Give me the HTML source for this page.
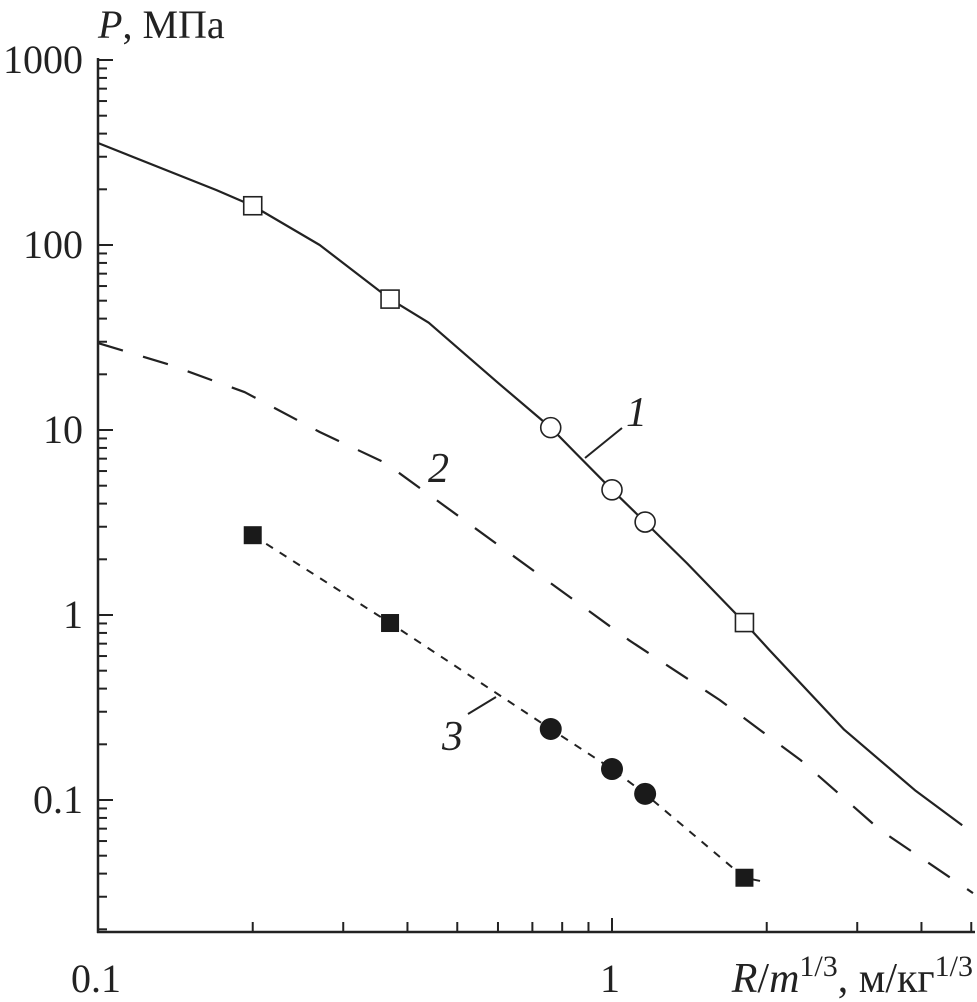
<!DOCTYPE html>
<html><head><meta charset="utf-8"><style>
html,body{margin:0;padding:0;background:#fff;}
svg{display:block;font-family:"Liberation Serif",serif;}
</style></head><body>
<svg id="chart" width="977" height="1002" viewBox="0 0 977 1002"></svg>
<script>
const xTicksMajor=[0.1,1];
const xTickLabels=["0.1","1"];
const yTicksMajor=[1000,100,10,1,0.1];
const yTickLabels=["1000","100","10","1","0.1"];
const curve1X=[0.1,0.17,0.2,0.27,0.37,0.44,0.6,0.76,0.85,1,1.16,1.4,1.81,2.02,2.83,3.9,4.8];
const curve1Y=[356,198,163,100,51,38,18,10.3,7.5,4.75,3.18,1.9,0.91,0.65,0.24,0.112,0.073];
const curve2X=[0.1,0.138,0.193,0.27,0.362,0.484,0.724,1.08,1.62,2.33,3.32,5.04];
const curve2Y=[29.5,22.5,16.0,9.75,6.64,3.7,1.64,0.73,0.347,0.164,0.069,0.0314];
const curve3X=[0.2,0.37,0.76,1,1.16,1.81,1.99];
const curve3Y=[2.7,0.905,0.242,0.147,0.108,0.038,0.036];
const openSqX=[0.2,0.37,1.81], openSqY=[163,51,0.91];
const openCircX=[0.76,1,1.16], openCircY=[10.3,4.75,3.18];
const fillSqX=[0.2,0.37,1.81], fillSqY=[2.7,0.905,0.038];
const fillCircX=[0.76,1,1.16], fillCircY=[0.242,0.147,0.108];

const X0=98,DX=514,Y0=60,DY=185,YB=932,XR=975;
function sx(v){return X0+DX*Math.log10(v/0.1);}
function sy(v){return Y0+DY*(3-Math.log10(v));}
const NS="http://www.w3.org/2000/svg";
const svg=document.getElementById('chart');
function mk(t,a,p){const e=document.createElementNS(NS,t);for(const k in a)e.setAttribute(k,a[k]);(p||svg).appendChild(e);return e;}

let e=mk('line',{x1:X0,y1:Y0-2,x2:X0,y2:YB+1,stroke:'#222','stroke-width':2.5});


e=mk('line',{x1:X0-1,y1:YB,x2:XR,y2:YB,stroke:'#222','stroke-width':2.5});



for(let d=-2;d<3;d++){for(let m=1;m<10;m++){const v=m*Math.pow(10,d);if(v<0.02||v>1000)continue;const y=sy(v);
 e=mk('line',{x1:X0,y1:y,x2:X0+(m==1?15:9),y2:y,stroke:'#222','stroke-width':2});
 
 }}
e=mk('line',{x1:X0,y1:sy(1000),x2:X0+15,y2:sy(1000),stroke:'#222','stroke-width':2});


for(let d=-1;d<1;d++){for(let m=1;m<10;m++){const v=m*Math.pow(10,d);if(v>5.01)continue;const x=sx(v);
 e=mk('line',{x1:x,y1:YB,x2:x,y2:YB-(m==1?14:10),stroke:'#222','stroke-width':2});
 
 }}
yTicksMajor.forEach((v,i)=>{e=mk('text',{x:83,y:sy(v)+13,'text-anchor':'end','font-size':40,fill:'#222'});e.textContent=yTickLabels[i];
 
 });
xTicksMajor.forEach((v,i)=>{e=mk('text',{x:sx(v)-2,y:992,'text-anchor':'middle','font-size':40,fill:'#222'});e.textContent=xTickLabels[i];
 
 });

e=mk('text',{x:98,y:38,'font-size':40,fill:'#222'});
e.innerHTML='<tspan font-style="italic">P</tspan>, МПа';


e=mk('text',{x:973,y:992,'text-anchor':'end','font-size':42,fill:'#222'});
e.innerHTML='<tspan font-style="italic">R</tspan>/<tspan font-style="italic">m</tspan><tspan font-size="30" dy="-16">1/3</tspan><tspan dy="16">, м/кг</tspan><tspan font-size="30" dy="-16">1/3</tspan>';



function path(xs,ys){return xs.map((x,i)=>(i?'L':'M')+sx(x).toFixed(1)+','+sy(ys[i]).toFixed(1)).join('');}
e=mk('path',{d:path(curve1X,curve1Y),fill:'none',stroke:'#222','stroke-width':2.2,'stroke-linejoin':'round'});


e=mk('path',{d:path(curve2X,curve2Y),fill:'none',stroke:'#222','stroke-width':2.2,'stroke-dasharray':'26 21','stroke-linejoin':'round'});


e=mk('path',{d:path(curve3X,curve3Y),fill:'none',stroke:'#222','stroke-width':2,'stroke-dasharray':'8 8'});



openSqX.forEach((x,i)=>{e=mk('rect',{x:sx(x)-9,y:sy(openSqY[i])-9,width:18,height:18,fill:'#fff',stroke:'#222','stroke-width':1.6});
 
 });
openCircX.forEach((x,i)=>{e=mk('circle',{cx:sx(x),cy:sy(openCircY[i]),r:10,fill:'#fff',stroke:'#222','stroke-width':1.6});
 
 });
fillSqX.forEach((x,i)=>{e=mk('rect',{x:sx(x)-9,y:sy(fillSqY[i])-9,width:18,height:18,fill:'#1a1a1a'});
 
 });
fillCircX.forEach((x,i)=>{e=mk('circle',{cx:sx(x),cy:sy(fillCircY[i]),r:11,fill:'#1a1a1a'});
 
 });

e=mk('line',{x1:585,y1:458,x2:622,y2:428,stroke:'#222','stroke-width':2});


e=mk('text',{x:626,y:426,'font-size':42,'font-style':'italic',fill:'#222'});e.textContent='1';


e=mk('text',{x:428,y:482,'font-size':42,'font-style':'italic',fill:'#222'});e.textContent='2';


e=mk('line',{x1:468,y1:714,x2:496,y2:697,stroke:'#222','stroke-width':2});


e=mk('text',{x:442,y:750,'font-size':42,'font-style':'italic',fill:'#222'});e.textContent='3';


</script>
</body></html>
